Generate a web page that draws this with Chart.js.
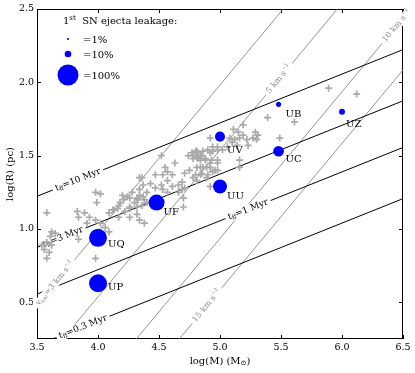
<!DOCTYPE html>
<html><head><meta charset="utf-8">
<script src="https://cdn.jsdelivr.net/npm/chart.js@4"></script>
<style>html,body{margin:0;padding:0;background:#fff}</style>
</head><body>
<canvas id="c" width="415" height="373"></canvas>
<script>
// ---- data ----
const xTicks=[3.5,4.0,4.5,5.0,5.5,6.0,6.5];
const yTicks=[0.5,1.0,1.5,2.0,2.5];
const clusterNames=['UB','UZ','UV','UC','UU','UF','UQ','UP'];
const clusterLogM=[5.48,6.00,5.00,5.48,5.00,4.48,4.00,4.00];
const clusterLogR=[1.85,1.80,1.63,1.53,1.29,1.18,0.94,0.63];
const clusterLeakage=[6,8,23,26,44,58,73,73];
const legendLeakage=[1,10,100];
const sampleLogM=[3.58,3.98,4.02,3.99,3.83,3.89,3.84,3.93,3.98,3.91,4.09,4.13,4.17,4.21,4.24,4.20,4.30,4.32,4.34,4.38,4.32,4.26,4.22,4.32,4.34,4.38,4.26,4.17,4.02,4.06,4.09,3.62,3.61,3.65,3.58,3.62,3.56,3.60,3.58,3.54,3.84,3.98,4.34,
4.92,4.52,4.63,4.74,4.77,4.80,4.82,4.85,4.81,4.78,4.84,4.88,4.92,4.94,4.98,4.98,4.92,4.89,4.84,4.75,4.71,4.78,4.84,4.90,4.94,4.98,4.81,4.55,4.57,4.53,4.61,4.57,4.47,4.36,4.43,4.37,4.34,4.40,4.47,4.52,4.53,4.57,4.61,4.66,4.69,4.71,4.69,4.66,4.70,4.92,4.28,4.26,4.33,4.37,4.40,4.36,4.18,4.16,4.26,4.70,4.12,
5.39,5.61,5.49,5.19,5.11,5.15,5.19,5.29,5.31,5.27,5.22,5.16,5.12,5.08,5.10,5.14,5.23,5.30,5.06,5.02,4.98,4.94,4.90,4.86,4.84,4.81,4.78,4.82,4.88,4.93,4.98,4.92,4.96,4.86,4.81,4.85,4.80,4.89,5.16,5.16,5.89,6.12];
const sampleLogR=[1.11,1.25,1.24,1.18,1.12,1.11,1.08,1.08,1.06,1.04,1.11,1.13,1.16,1.20,1.22,1.23,1.18,1.21,1.23,1.20,1.15,1.14,1.12,1.10,1.06,1.04,1.08,1.08,1.04,1.01,0.98,0.98,0.95,0.97,0.91,0.89,0.86,0.84,0.80,0.89,0.93,0.80,1.35,
1.62,1.50,1.45,1.50,1.52,1.53,1.52,1.50,1.49,1.48,1.47,1.48,1.52,1.56,1.54,1.47,1.45,1.42,1.42,1.40,1.38,1.35,1.37,1.37,1.39,1.40,1.33,1.42,1.39,1.37,1.37,1.33,1.37,1.35,1.31,1.30,1.27,1.25,1.28,1.30,1.27,1.25,1.29,1.30,1.32,1.28,1.27,1.25,1.21,1.29,1.25,1.21,1.20,1.22,1.18,1.16,1.18,1.14,1.15,1.15,1.13,
1.76,1.73,1.62,1.71,1.68,1.66,1.64,1.66,1.64,1.62,1.61,1.62,1.61,1.62,1.59,1.57,1.57,1.61,1.56,1.54,1.56,1.53,1.54,1.53,1.50,1.53,1.50,1.48,1.47,1.47,1.45,1.42,1.40,1.42,1.42,1.38,1.37,1.35,1.47,1.42,1.96,1.92];
const tffNames=['10','3','1','0.3'];            // free-fall time, Myr
const tffLogRAtM35=[1.223,0.874,0.556,0.207];
const tffLogRAtM65=[2.223,1.874,1.556,1.207];
const velNames=['3','5','10','15'];             // km/s
const velLogRAtM35=[0.482,0.038,-0.564,-0.916];
const velLogRAtM65=[3.482,3.038,2.436,2.084];

// ---- label placement (styling config) ----
const tffLabelM=[3.836,3.713,5.23,3.877];
const velLabelM=[3.648,5.484,6.45,4.893];
const clusterLabelOffset={UB:[7,10],UZ:[4,13],UV:[7,14],UC:[7,8],UU:[7,10],UF:[7,9.5],UQ:[10,7],UP:[10,4]};
const F='"DejaVu Serif", serif';
const radiusFor=p=>10.5*Math.sqrt(p/100);

function richWidth(ctx,parts){let w=0;for(const p of parts){ctx.font=p.s+'px '+F;w+=ctx.measureText(p.t).width;}return w;}
function drawRich(ctx,parts,x,y,ang,align,color,erase){
  ctx.save();ctx.translate(x,y);ctx.rotate(ang);
  const w=richWidth(ctx,parts);
  let sx=align==='center'?-w/2:0;
  if(erase){ctx.fillStyle='#fff';const h=parts[0].s;ctx.fillRect(sx-erase,-h*0.55,w+2*erase,h*1.1);}
  ctx.fillStyle=color;ctx.textBaseline='middle';ctx.textAlign='left';
  for(const p of parts){ctx.font=p.s+'px '+F;ctx.fillText(p.t,sx,p.dy||0);sx+=ctx.measureText(p.t).width;}
  ctx.restore();
}
function lineAt(a,b,m){return a+(b-a)*(m-3.5)/3;}

const datasets=[];
datasets.push({data:clusterLogM.map((m,i)=>({x:m,y:clusterLogR[i]})),
  pointRadius:c=>radiusFor(clusterLeakage[c.dataIndex]),pointBackgroundColor:'#0000ff',pointBorderWidth:0,showLine:false});
datasets.push({data:sampleLogM.map((m,i)=>({x:m,y:sampleLogR[i]})),pointStyle:'cross',pointRadius:3.5,
  pointBorderColor:'#aaaaaa',pointBorderWidth:1.7,showLine:false});
tffNames.forEach((n,i)=>datasets.push({data:[{x:3.5,y:tffLogRAtM35[i]},{x:6.5,y:tffLogRAtM65[i]}],
  showLine:true,borderColor:'#000',borderWidth:1,pointRadius:0}));
velNames.forEach((n,i)=>datasets.push({data:[{x:3.5,y:velLogRAtM35[i]},{x:6.5,y:velLogRAtM65[i]}],
  showLine:true,borderColor:'#888888',borderWidth:0.9,pointRadius:0}));

const deco={
  id:'deco',
  beforeDatasetsDraw(chart){
    const {ctx,chartArea:a,scales:{x,y}}=chart;
    ctx.save();ctx.strokeStyle='#000';ctx.lineWidth=1;
    ctx.strokeRect(a.left+0.5,a.top+0.5,a.right-a.left-1,a.bottom-a.top-1);
    ctx.beginPath();
    xTicks.forEach(v=>{const p=Math.round(x.getPixelForValue(v))+0.5;ctx.moveTo(p,a.bottom);ctx.lineTo(p,a.bottom-4);ctx.moveTo(p,a.top);ctx.lineTo(p,a.top+4);});
    yTicks.forEach(v=>{const p=Math.round(y.getPixelForValue(v))+0.5;ctx.moveTo(a.left,p);ctx.lineTo(a.left+4,p);ctx.moveTo(a.right,p);ctx.lineTo(a.right-4,p);});
    ctx.stroke();ctx.restore();
  },
  afterDatasetDraw(chart,args){
    if(args.index!==2)return;
    const {ctx,scales:{x,y}}=chart;
    const ang=(a,b)=>Math.atan2(y.getPixelForValue(b)-y.getPixelForValue(a),x.getPixelForValue(6.5)-x.getPixelForValue(3.5));
    velNames.forEach((n,i)=>{
      const m=velLabelM[i],r=lineAt(velLogRAtM35[i],velLogRAtM65[i],m);
      const parts=i===0?[{t:'v',s:8},{t:'esc',s:5.5,dy:2},{t:'='+n+' km s',s:8},{t:'\u22121',s:5.5,dy:-3}]
                       :[{t:n+' km s',s:8},{t:'\u22121',s:5.5,dy:-3}];
      drawRich(ctx,parts,x.getPixelForValue(m),y.getPixelForValue(r),ang(velLogRAtM35[i],velLogRAtM65[i]),'center','#888888',3);
    });
    tffNames.forEach((n,i)=>{
      const m=tffLabelM[i],r=lineAt(tffLogRAtM35[i],tffLogRAtM65[i],m);
      const parts=[{t:'t',s:9},{t:'ff',s:6,dy:2},{t:'='+n+' Myr',s:9}];
      drawRich(ctx,parts,x.getPixelForValue(m),y.getPixelForValue(r),ang(tffLogRAtM35[i],tffLogRAtM65[i]),'center','#000',3);
    });
  },
  afterDatasetsDraw(chart){
    const {ctx,chartArea:a,scales:{x,y}}=chart;
    ctx.save();
    ctx.fillStyle='#000';ctx.textBaseline='middle';ctx.textAlign='left';ctx.font='10px '+F;
    clusterNames.forEach((n,i)=>{
      const o=clusterLabelOffset[n];
      ctx.fillText(n,x.getPixelForValue(clusterLogM[i])+o[0],y.getPixelForValue(clusterLogR[i])+o[1]);
    });
    // legend
    drawRich(ctx,[{t:'1',s:10},{t:'st',s:7,dy:-3},{t:'  SN ejecta leakage:',s:10}],a.left+26,a.top+12,0,'left','#000',0);
    const ly=[30,45,66];
    legendLeakage.forEach((p,i)=>{
      ctx.fillStyle='#0000ff';ctx.beginPath();ctx.arc(a.left+31,a.top+ly[i],radiusFor(p),0,Math.PI*2);ctx.fill();
      ctx.fillStyle='#000';ctx.font='10px '+F;ctx.fillText('='+p+'%',a.left+46,a.top+ly[i]+1);
    });
    // axis titles
    const cx=(a.left+a.right)/2;
    const xt=[{t:'log(M) (M',s:10},{t:'\u2299',s:7,dy:2},{t:')',s:10}];
    drawRich(ctx,xt,cx,361,0,'center','#000',0);
    drawRich(ctx,[{t:'log(R) (pc)',s:10}],10,(a.top+a.bottom)/2,-Math.PI/2,'center','#000',0);
    ctx.restore();
  }
};

new Chart(document.getElementById('c'),{
  type:'scatter',
  data:{datasets},
  options:{
    responsive:false,animation:false,events:[],
    layout:{padding:{top:9,right:12,left:0,bottom:0}},
    plugins:{legend:{display:false},tooltip:{enabled:false}},
    scales:{
      x:{type:'linear',min:3.5,max:6.5,grid:{display:false,drawTicks:false},border:{display:false},
        afterBuildTicks:s=>{s.ticks=xTicks.map(v=>({value:v}));},
        afterFit:s=>{s.height=34;},
        ticks:{padding:3,font:{family:F,size:9.5},color:'#000',callback:v=>Number(v).toFixed(1),maxRotation:0}},
      y:{type:'linear',min:0.25,max:2.5,grid:{display:false,drawTicks:false},border:{display:false},
        afterBuildTicks:s=>{s.ticks=yTicks.map(v=>({value:v}));},
        afterFit:s=>{s.width=37;},
        ticks:{padding:3,font:{family:F,size:9.5},color:'#000',callback:v=>Number(v).toFixed(1)}}
    }
  },
  plugins:[deco]
});
</script>
</body></html>
